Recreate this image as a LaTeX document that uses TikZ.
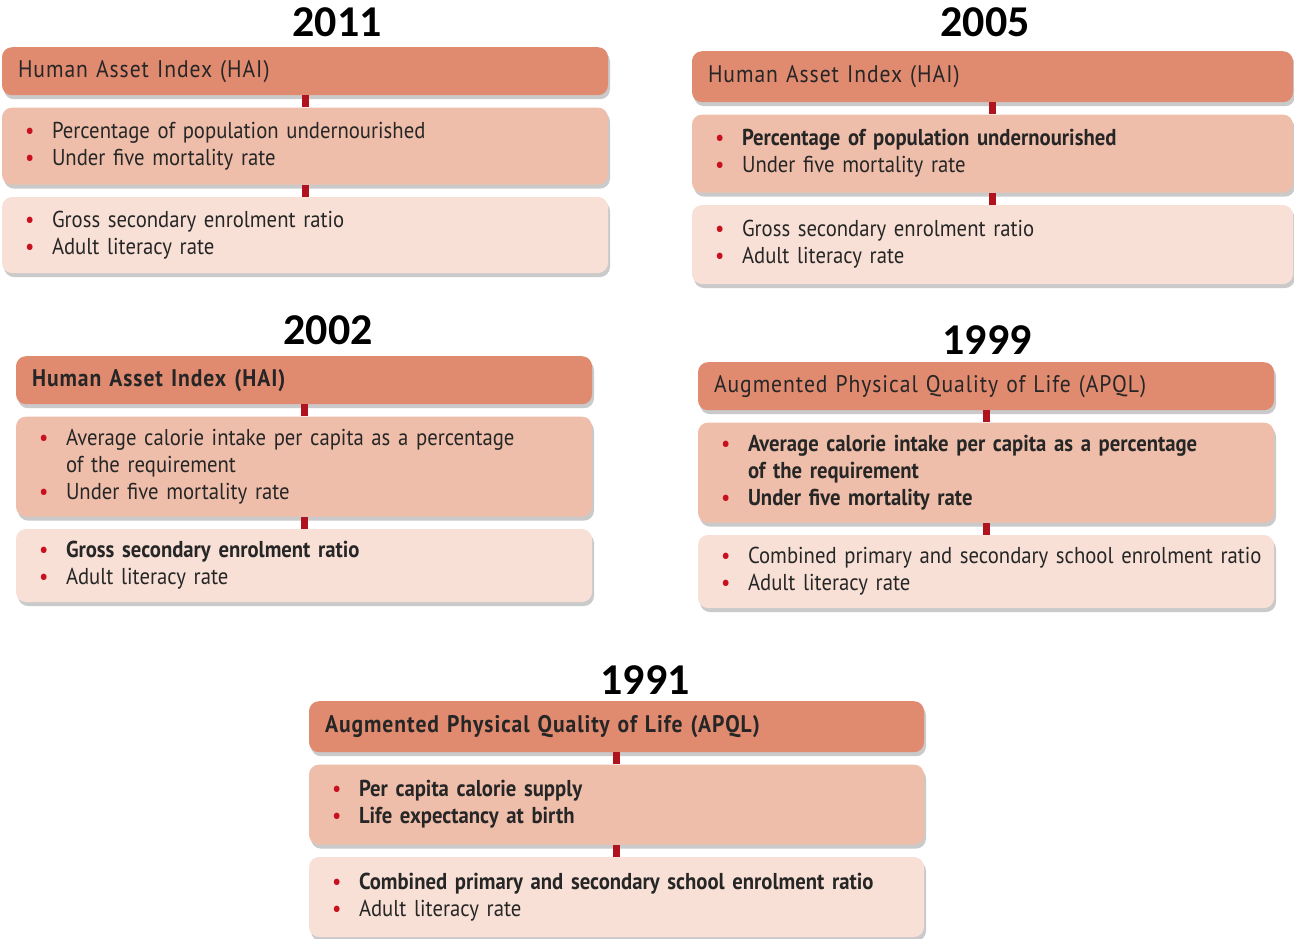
\documentclass[tikz,border=0pt]{standalone}
\usepackage{fontspec}
\setmainfont{PT Sans}[FakeStretch=0.9]
\newfontfamily\hdrfont{PT Sans}[FakeStretch=0.9,LetterSpace=4]
\newfontfamily\yearfont{Carlito}
\usetikzlibrary{positioning,shadows}

\definecolor{hdrfill}{HTML}{E08A70}
\definecolor{afill}{HTML}{EFBEAA}
\definecolor{bfill}{HTML}{F8E0D6}
\definecolor{dotred}{HTML}{C8101E}
\definecolor{linkred}{HTML}{B0121E}
\definecolor{txtgray}{HTML}{262626}

% bullet item and continuation line
\newcommand{\itm}[1]{\mbox{\makebox[27pt][l]{\textcolor{dotred}{\textbullet}}#1}}
\newcommand{\cnt}[1]{\mbox{\hspace*{27pt}#1}}

\tikzset{
  panel/.style={rounded corners=10pt, align=left, text=txtgray,
    drop shadow={shadow xshift=2pt, shadow yshift=-4pt, opacity=0.35, fill=black!60}},
  hdr/.style={panel, anchor=north, fill=hdrfill, inner xsep=16pt,
    font=\hdrfont\fontsize{24}{28}\selectfont},
  lvla/.style={panel, fill=afill, inner xsep=23pt, font=\fontsize{23}{27}\selectfont},
  lvlb/.style={panel, fill=bfill, inner xsep=23pt, font=\fontsize{23}{27}\selectfont},
  yr/.style={font=\yearfont\bfseries\fontsize{44}{44}\selectfont},
  link/.style={linkred, line width=7pt},
  node distance=12pt
}

\begin{document}
\begin{tikzpicture}[x=1pt,y=-1pt]
\useasboundingbox (0,0) rectangle (1294,938);

% 2011
\node[yr] (y11) at (337,22) {2011};
\node[hdr, text width=574pt, minimum height=48pt] (h11) at (305,47) {Human Asset Index (HAI)};
\node[lvla, below=of h11, text width=560pt, minimum height=77pt] (a11)
  {\itm{Percentage of population undernourished}\\\itm{Under five mortality rate}};
\node[lvlb, below=of a11, text width=560pt, minimum height=76pt] (b11)
  {\itm{Gross secondary enrolment ratio}\\\itm{Adult literacy rate}};
\draw[link] (h11.south) -- (a11.north);
\draw[link] (a11.south) -- (b11.north);

% 2005
\node[yr] (y05) at (985,22) {2005};
\node[hdr, text width=569pt, minimum height=51pt] (h05) at (992.5,51) {Human Asset Index (HAI)};
\node[lvla, below=of h05, text width=555pt, minimum height=78pt] (a05)
  {\itm{\textbf{Percentage of population undernourished}}\\\itm{Under five mortality rate}};
\node[lvlb, below=of a05, text width=555pt, minimum height=79pt] (b05)
  {\itm{Gross secondary enrolment ratio}\\\itm{Adult literacy rate}};
\draw[link] (h05.south) -- (a05.north);
\draw[link] (a05.south) -- (b05.north);

% 2002
\node[yr] (y02) at (328,330) {2002};
\node[hdr, text width=544pt, minimum height=48pt] (h02) at (304,356) {\textbf{Human Asset Index (HAI)}};
\node[lvla, below=of h02, text width=530pt, minimum height=100pt] (a02)
  {\itm{Average calorie intake per capita as a percentage}\\\cnt{of the requirement}\\\itm{Under five mortality rate}};
\node[lvlb, below=of a02, text width=530pt, minimum height=73pt] (b02)
  {\itm{\textbf{Gross secondary enrolment ratio}}\\\itm{Adult literacy rate}};
\draw[link] (h02.south) -- (a02.north);
\draw[link] (a02.south) -- (b02.north);

% 1999
\node[yr] (y99) at (987,340) {1999};
\node[hdr, text width=544pt, minimum height=48pt] (h99) at (986,362) {Augmented Physical Quality of Life (APQL)};
\node[lvla, below=of h99, text width=530pt, minimum height=100pt] (a99)
  {\itm{\textbf{Average calorie intake per capita as a percentage}}\\\cnt{\textbf{of the requirement}}\\\itm{\textbf{Under five mortality rate}}};
\node[lvlb, below=of a99, text width=530pt, minimum height=73pt] (b99)
  {\itm{Combined primary and secondary school enrolment ratio}\\\itm{Adult literacy rate}};
\draw[link] (h99.south) -- (a99.north);
\draw[link] (a99.south) -- (b99.north);

% 1991
\node[yr] (y91) at (645,680) {1991};
\node[hdr, text width=583pt, minimum height=51pt] (h91) at (616.5,701) {\textbf{Augmented Physical Quality of Life (APQL)}};
\node[lvla, below=of h91, text width=569pt, minimum height=80pt] (a91)
  {\itm{\textbf{Per capita calorie supply}}\\\itm{\textbf{Life expectancy at birth}}};
\node[lvlb, below=of a91, text width=569pt, minimum height=80pt] (b91)
  {\itm{\textbf{Combined primary and secondary school enrolment ratio}}\\\itm{Adult literacy rate}};
\draw[link] (h91.south) -- (a91.north);
\draw[link] (a91.south) -- (b91.north);
\end{tikzpicture}
\end{document}
